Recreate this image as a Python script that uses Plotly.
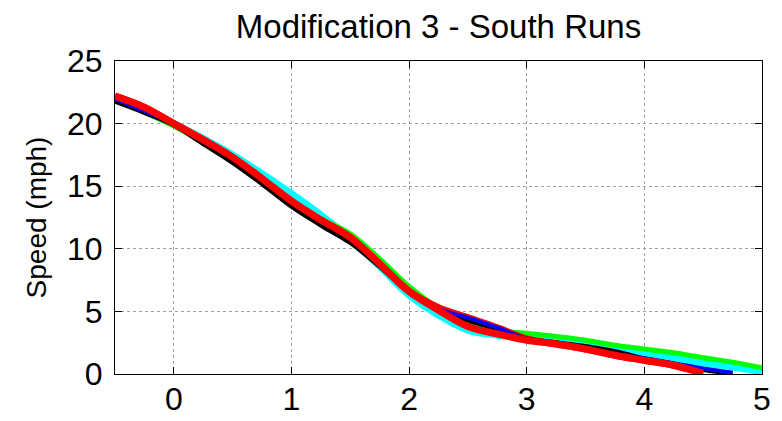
import plotly.graph_objects as go

# distance grid shared by the runs (x axis units)
x_grid = [-0.5, -0.25, 0, 0.25, 0.5, 0.75, 1.0, 1.25, 1.5, 1.75, 2.0, 2.25, 2.5, 2.75, 3.0,
          3.25, 3.5, 3.75, 4.0, 4.25, 4.5, 4.75, 5.0]

cyan_speed = [22.0, 21.2, 20.0, 18.8, 17.5, 16.0, 14.4, 12.7, 10.8, 8.6, 6.3, 4.7, 3.5, 3.1, 3.0,
              2.7, 2.4, 2.0, 1.65, 1.3, 0.9, 0.55, 0.2]
green_speed = [21.8, 20.9, 19.8, 18.5, 17.0, 15.4, 13.8, 12.4, 11.2, 9.2, 7.0, 5.3, 4.2, 3.5, 3.25,
               3.0, 2.7, 2.3, 2.0, 1.7, 1.3, 0.95, 0.5]
black_speed = [21.8, 20.9, 19.9, 18.4, 16.9, 15.2, 13.4, 11.9, 10.5, 8.6, 6.6, 5.1, 4.3, 3.6, 2.8,
               2.5, 2.2, 1.8, 1.2, 0.8, 0.35, 0.05]
blue_speed = [22.0, 21.0, 20.0, 18.6, 17.2, 15.5, 13.7, 12.2, 10.8, 8.8, 6.7, 5.2, 4.5, 3.7, 2.8,
              2.4, 2.0, 1.6, 1.25, 0.85, 0.45, 0.1]
red1_speed = [22.2, 21.3, 20.0, 18.7, 17.3, 15.6, 13.8, 12.3, 10.9, 8.8, 6.6, 5.3, 4.5, 3.7, 2.8,
              2.4, 2.0, 1.5, 1.1, 0.7, 0.05]
red2_speed = [22.2, 21.3, 20.0, 18.7, 17.3, 15.6, 13.8, 12.3, 10.9, 8.8, 6.6, 5.1, 3.8, 3.2, 2.7,
              2.4, 2.0, 1.5, 1.1, 0.7, 0.05]

x_ticks = [0, 1, 2, 3, 4, 5]
y_ticks = [0, 5, 10, 15, 20, 25]

runs = [
    (cyan_speed, "#00ffff", 7),
    (green_speed, "#00ff00", 5),
    (red1_speed, "#ff0000", 7),
    (black_speed, "#000000", 5),
    (blue_speed, "#0000ff", 4),
    (red2_speed, "#ff0000", 7),
]

fig = go.Figure()
for speed, color, w in runs:
    fig.add_trace(go.Scatter(x=x_grid[:len(speed)], y=speed, mode="lines",
                             line=dict(color=color, width=w, shape="spline"),
                             showlegend=False, hoverinfo="skip"))

# page body has an 8px margin, so the figure is a bit smaller than the window
font = "Liberation Sans, Arial, sans-serif"
fig.update_layout(
    width=774, height=413,
    margin=dict(l=107, r=20, t=53, b=47),
    paper_bgcolor="white", plot_bgcolor="white",
    title=dict(text="Modification 3 - South Runs", xref="paper", x=0.5, xanchor="center",
               yref="container", y=0.955, yanchor="middle",
               font=dict(family=font, size=33, color="black")),
    font=dict(family=font, color="black"),
)
axis_style = dict(showline=True, linecolor="black", linewidth=1, mirror="ticks",
                  ticks="inside", ticklen=7, tickcolor="black", automargin=False,
                  showgrid=True, gridcolor="#a0a0a0", griddash="dot", gridwidth=1,
                  zeroline=False, tickfont=dict(family=font, size=32, color="black"))
fig.update_xaxes(range=[-0.5, 5], tickvals=x_ticks, ticklabelstandoff=-3, **axis_style)
fig.update_yaxes(range=[0, 25], tickvals=y_ticks, ticklabelstandoff=5,
                 title=dict(text="Speed (mph)", font=dict(family=font, size=28, color="black"),
                            standoff=12),
                 **axis_style)

fig.write_html("out.html")
